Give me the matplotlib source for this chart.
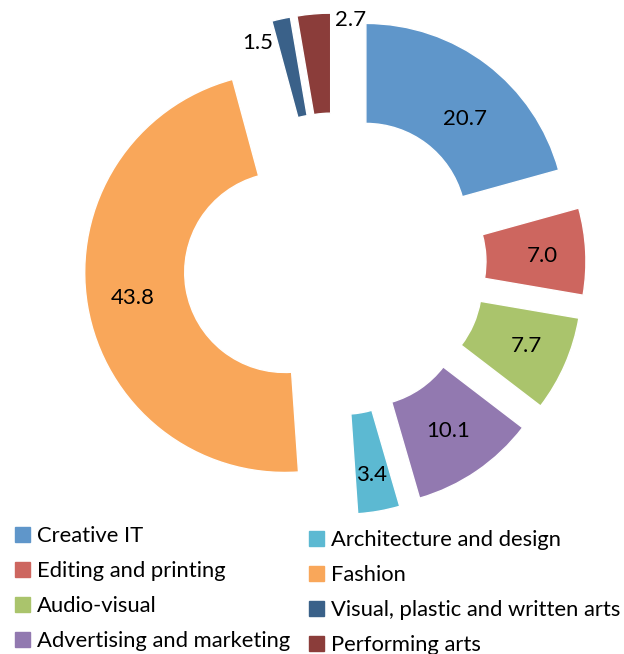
import matplotlib.pyplot as plt
from matplotlib.patches import Patch
import numpy as np

categories = ['Creative IT', 'Editing and printing', 'Audio-visual',
              'Advertising and marketing', 'Architecture and design', 'Fashion',
              'Visual, plastic and written arts', 'Performing arts']
# values printed on the slices
values = [20.7, 7.0, 7.7, 10.1, 3.4, 43.8, 1.5, 2.7]
# slice sizes as drawn in the original (fashion ring takes the rest of 100)
shares = [20.7, 7.0, 7.7, 10.1, 3.4, 46.9, 1.5, 2.7]
colors = ['#5F96CA', '#CD665F', '#AAC46C', '#9279B0',
          '#5CB9D2', '#F9A75A', '#3A6189', '#8B3D3A']

plt.rcParams['font.family'] = ['Lato', 'DejaVu Sans']
fs = 16

fig = plt.figure(figsize=(6.24, 6.54), dpi=100)
ax = fig.add_axes([0, 0, 1, 1])
wedges, _ = ax.pie(
    shares, colors=colors, startangle=90, counterclock=False,
    center=(335, 390), radius=200, explode=[51] * len(shares),
    wedgeprops=dict(width=100, edgecolor='white', linewidth=1))

# label placement: (angle shift in deg, radius fraction)
lab_pos = [(-6, 0.72), (-0.7, 0.78), (0.5, 0.785), (-0.3, 0.755),
           (-0.2, 0.815), (0, 0.77), (8.7, 0.92), (-10.6, 0.97)]
for w, v, (dang, rr) in zip(wedges, values, lab_pos):
    mid = np.deg2rad((w.theta1 + w.theta2) / 2 + dang)
    cx, cy = w.center
    ax.text(cx + rr * w.r * np.cos(mid), cy + rr * w.r * np.sin(mid), '%.1f' % v,
            ha='center', va='center', fontsize=fs, color='black')

ax.set_xlim(0, 624)
ax.set_ylim(0, 654)
ax.axis('off')

handles = [Patch(color=c) for c in colors]
leg_kw = dict(loc='upper left', frameon=False, fontsize=15.8, handlelength=0.68,
              handleheight=0.68, handletextpad=0.3, labelspacing=0.68,
              borderpad=0, borderaxespad=0)
# the two legend columns sit at slightly different heights in the original
fig.legend(handles[:4], categories[:4],
           bbox_to_anchor=(15 / 624, 1 - 526 / 654), **leg_kw)
fig.legend(handles[4:], categories[4:],
           bbox_to_anchor=(309 / 624, 1 - 530 / 654), **leg_kw)

fig.savefig('out.png', dpi=100)
